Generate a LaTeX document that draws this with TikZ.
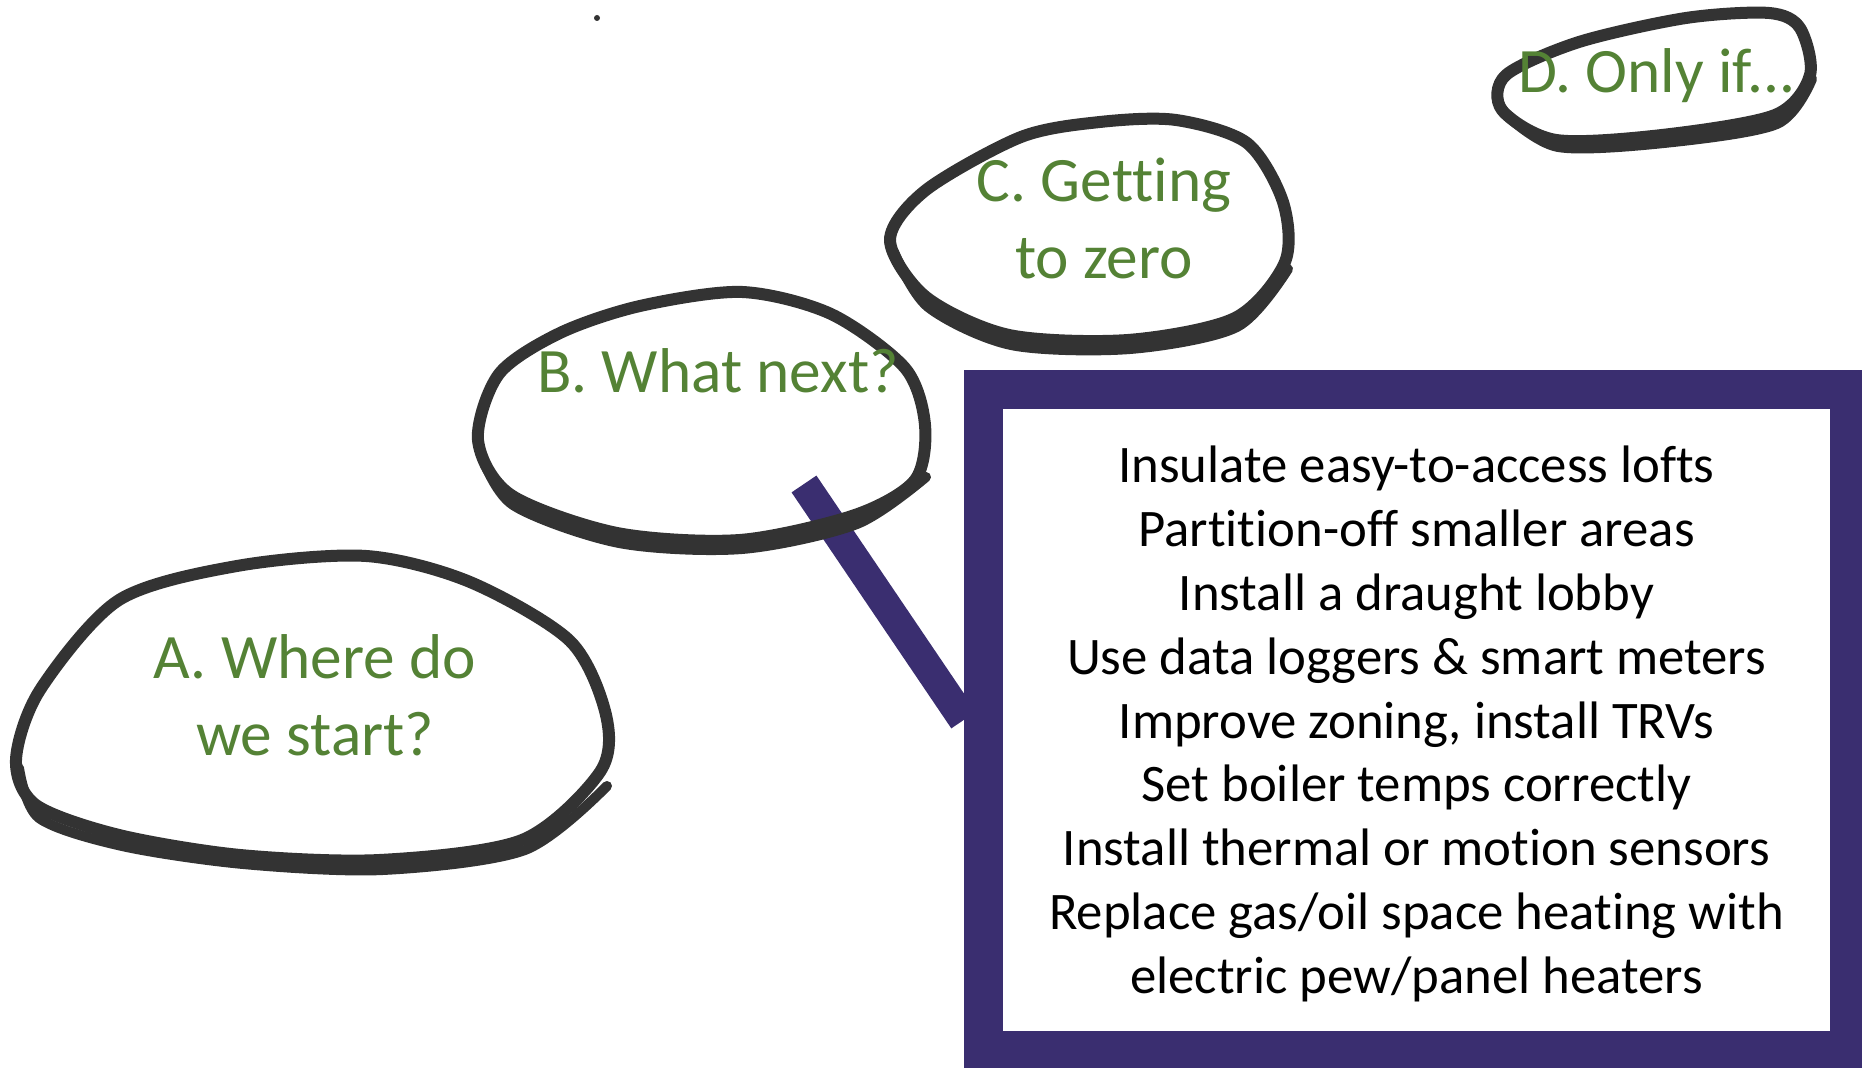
\documentclass[tikz,border=0pt]{standalone}
\usepackage{fontspec}
\setmainfont{Carlito}[Ligatures={NoCommon}]
\usetikzlibrary{calc,positioning}
\definecolor{sketch}{RGB}{51,51,51}
\definecolor{leafgreen}{RGB}{84,130,53}
\definecolor{boxpurple}{RGB}{58,46,112}
\tikzset{
    every node/.style={inner sep=0pt},
    bubble/.style={draw=sketch, line width=0.12cm, line join=round, line cap=round},
    bubble rough/.style={draw=sketch, line width=0.1cm, line cap=round},
    bubble text/.style={font=\fontsize{18}{21.9}\selectfont, text=leafgreen, align=center},
    tip box/.style={draw=boxpurple, line width=0.39cm, fill=white,
        minimum width=8.66cm, minimum height=6.605cm, align=center,
        font=\fontsize{15}{18.15}\selectfont}
}

\begin{document}
\begin{tikzpicture}[x=0.01cm,y=-0.01cm]
    \useasboundingbox (0,0) rectangle (1862,1068);
    \clip (0,0) rectangle (1862,1068);

    % connector from the second bubble to the list
    \node[tip box] (tips) at (1416.5,720) {};
    \node[font=\fontsize{15}{18.15}\selectfont, align=center] (tiplist) at (1416.5,724) {Insulate easy-to-access lofts\\
        Partition-off smaller areas\\
        Install a draught lobby\\
        Use data loggers \& smart meters\\
        Improve zoning, install TRVs\\
        Set boiler temps correctly\\
        Install thermal or motion sensors\\
        Replace gas/oil space heating with\\
        electric pew/panel heaters};
    \coordinate (tail) at (804,484);
    \draw[boxpurple, line width=0.3cm] (tail) -- (tips.west);

    % hand drawn bubbles
    \draw[bubble] plot[smooth cycle] coordinates {(366,556) (470,582) (570,641) (606,715)
        (600,772) (522,840) (380,860) (240,855) (119,835) (36,805) (16,760) (40,690) (119,600) (237,566)};
    \draw[bubble rough, shift={(3,8)}] plot[smooth] coordinates {(16,760) (36,810) (119,838)
        (240,856) (380,862) (522,842) (604,778)};
    \draw[bubble rough, shift={(-2,4)}] plot[smooth] coordinates {(119,836) (240,855) (450,858)};
    \draw[bubble] plot[smooth cycle] coordinates {(742,292) (831,314) (905,368) (925,425)
        (915,480) (855,515) (740,540) (617,533) (511,495) (478,440) (499,374) (560,333) (640,306)};
    \draw[bubble rough, shift={(2,7)}] plot[smooth] coordinates {(478,445) (511,498) (617,536)
        (740,542) (855,517) (924,470)};
    \draw[bubble] plot[smooth cycle] coordinates {(1176,120) (1247,143) (1283,202) (1285,262)
        (1235,318) (1128,340) (1009,335) (926,297) (890,240) (926,190) (1021,137) (1100,122)};
    \draw[bubble rough, shift={(2,7)}] plot[smooth] coordinates {(892,245) (926,300) (1009,338)
        (1128,342) (1235,320) (1286,262)};
    \draw[bubble] plot[smooth cycle] coordinates {(1769,13) (1800,28) (1810,75) (1775,115)
        (1662,135) (1556,140) (1502,110) (1506,75) (1579,42) (1686,18)};
    \draw[bubble rough, shift={(2,7)}] plot[smooth] coordinates {(1504,108) (1556,140)
        (1662,136) (1775,117) (1810,72)};

    \node[bubble text] (start) at (315,695) {A. Where do\\we start?};
    \node[bubble text] (next) at (718,371) {B. What next?};
    \node[bubble text] (zero) at (1104,218) {C. Getting\\to zero};
    \node[bubble text] (onlyif) at (1657,76) {D. Only if...};

    \fill[sketch] (597,18) circle (3);
\end{tikzpicture}
\end{document}
